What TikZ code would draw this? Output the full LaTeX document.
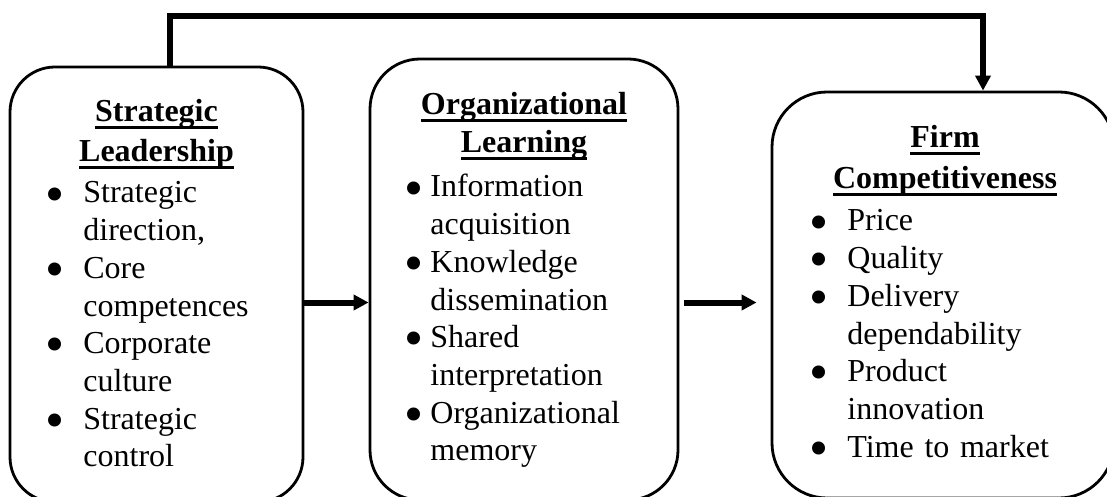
\documentclass[tikz,border=0pt]{standalone}
\usepackage{fontspec}
\usepackage{graphicx}
\setmainfont{Liberation Serif}
\usetikzlibrary{arrows.meta}
\newsavebox\hulbox
\newcommand\hul[1]{\sbox\hulbox{#1}\leavevmode\rlap{\rule[-3.5pt]{\wd\hulbox}{1.5pt}}\usebox\hulbox}
\newcommand\bul[1]{\makebox[#1][l]{\raisebox{-4.6pt}{\scalebox{1.7}{\textbullet}}}}
\newcommand\ind[1]{\hspace*{#1}}
\tikzset{
  box/.style={draw, line width=1.4pt, rounded corners=#1, inner sep=0pt},
  head/.style={anchor=base, text width=160pt, align=center, inner sep=0pt,
    font=\fontsize{16pt}{#1}\selectfont\bfseries},
  lst/.style={anchor=base west, text width=170pt, align=left, inner sep=0pt,
    font=\fontsize{16pt}{18.85pt}\selectfont},
  conn/.style={line width=2.8pt},
  arr/.style={line width=3pt, -{Triangle[length=7.5pt,width=7.5pt]}}
}
\begin{document}
\begin{tikzpicture}[x=0.5pt,y=-0.5pt]
\useasboundingbox (0,0) rectangle (1107,497);
% boxes
\node[box=22.5pt, minimum width=146.5pt, minimum height=217.5pt] (b1) at (156.5,284.5) {};
\node[box=25pt, minimum width=154pt, minimum height=220.5pt] (b2) at (524,279.5) {};
\node[box=27.5pt, minimum width=171pt, minimum height=203pt] (b3) at (943,295) {};
% headings
\node[head=20pt] (h1) at (156.5,122) {\hul{Strategic}\\\hul{Leadership}};
\node[head=19pt] (h2) at (524,115) {\hul{Organizational}\\\hul{Learning}};
\node[head=20.5pt] (h3) at (945,148) {\hul{Firm}\\\hul{Competitiveness}};
% lists
\node[lst] (l1) at (45,203) {\bul{19pt}Strategic\\\ind{19pt}direction,\\
\bul{19pt}Core\\\ind{19pt}competences\\
\bul{19pt}Corporate\\\ind{19pt}culture\\
\bul{19pt}Strategic\\\ind{19pt}control};
\node[lst] (l2) at (404,197) {\bul{13pt}Information\\\ind{13pt}acquisition\\
\bul{13pt}Knowledge\\\ind{13pt}dissemination\\
\bul{13pt}Shared\\\ind{13pt}interpretation\\
\bul{13pt}Organizational\\\ind{13pt}memory};
\node[lst] (l3) at (809,231) {\bul{19pt}Price\\
\bul{19pt}Quality\\
\bul{19pt}Delivery\\\ind{19pt}dependability\\
\bul{19pt}Product\\\ind{19pt}innovation\\
\bul{19pt}\mbox{Time to market}};
% connectors
\coordinate (c0) at (170,16);
\coordinate (c1) at (983,16);
\coordinate (ya) at (0,302.5);
\draw[conn, -{Triangle[length=7.5pt,width=7.5pt]}] (c0 |- b1.north) -- (c0) -- (c1) -- (c1 |- b3.north);
\draw[arr] (b1.east |- ya) -- (b2.west |- ya);
\draw[arr, shorten <=2.5pt, shorten >=7pt] (b2.east |- ya) -- (b3.west |- ya);
\end{tikzpicture}
\end{document}
